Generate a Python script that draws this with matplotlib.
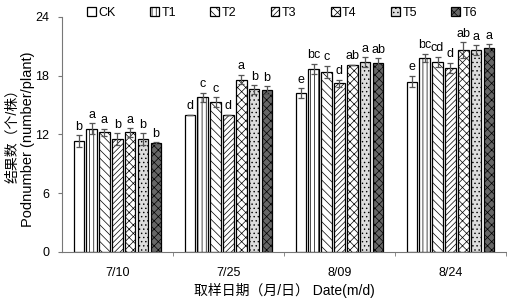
import numpy as np
import matplotlib
matplotlib.use("Agg")
import matplotlib.pyplot as plt

plt.rcParams['font.family'] = ['Liberation Sans', 'Noto Sans CJK SC', 'DejaVu Sans']
plt.rcParams['hatch.linewidth'] = 0.5

dates = ["7/10", "7/25", "8/09", "8/24"]
treatments = ["CK", "T1", "T2", "T3", "T4", "T5", "T6"]

# pod number per plant, one list per treatment (values for each date)
ck = [11.3, 14.0, 16.2, 17.4]
t1 = [12.6, 15.8, 18.7, 19.8]
t2 = [12.2, 15.3, 18.4, 19.4]
t3 = [11.5, 14.0, 17.2, 18.8]
t4 = [12.2, 17.6, 19.1, 20.6]
t5 = [11.5, 16.6, 19.4, 20.6]
t6 = [11.1, 16.5, 19.3, 20.8]

ck_err = [0.6, 0.0, 0.5, 0.6]
t1_err = [0.55, 0.45, 0.5, 0.45]
t2_err = [0.4, 0.5, 0.6, 0.55]
t3_err = [0.6, 0.0, 0.4, 0.5]
t4_err = [0.45, 0.5, 0.0, 0.8]
t5_err = [0.6, 0.45, 0.5, 0.5]
t6_err = [0.1, 0.4, 0.5, 0.4]

ck_sig = ["b", "d", "e", "e"]
t1_sig = ["a", "c", "bc", "bc"]
t2_sig = ["a", "c", "c", "cd"]
t3_sig = ["b", "d", "d", "d"]
t4_sig = ["a", "a", "ab", "ab"]
t5_sig = ["b", "b", "a", "a"]
t6_sig = ["b", "b", "ab", "a"]

values = [ck, t1, t2, t3, t4, t5, t6]
errors = [ck_err, t1_err, t2_err, t3_err, t4_err, t5_err, t6_err]
sigs = [ck_sig, t1_sig, t2_sig, t3_sig, t4_sig, t5_sig, t6_sig]

styles = [
    dict(facecolor="white", hatch=None),
    dict(facecolor="white", hatch="||||"),
    dict(facecolor="white", hatch="\\\\\\\\"),
    dict(facecolor="white", hatch="//////"),
    dict(facecolor="white", hatch="xxxx"),
    dict(facecolor="#dddddd", hatch="...."),
    dict(facecolor="#666666", hatch="xxxx"),
]

fig = plt.figure(figsize=(5.07, 3.02), dpi=100)
ax = fig.add_axes([0.122, 0.166, 0.876, 0.778])

slot = 0.116
width = 0.094
x = np.arange(len(dates))
for i, name in enumerate(treatments):
    pos = x + 0.5 + (i - 3) * slot
    ax.bar(pos, values[i], width=width, edgecolor="black", linewidth=0.9,
           label=name, **styles[i])
    ax.errorbar(pos, values[i], yerr=errors[i], fmt="none", ecolor="#555555",
                elinewidth=0.9, capsize=2.5, capthick=0.9)
    for p, v, e, s in zip(pos, values[i], errors[i], sigs[i]):
        ax.text(p, v + e + 0.25, s, ha="center", va="bottom", fontsize=9)

ax.set_xlim(0, 4)
ax.set_ylim(0, 24)
ax.set_yticks([0, 6, 12, 18, 24])
ax.set_xticks(x + 0.5)
ax.set_xticklabels(dates, fontsize=9)
ax.set_xticks([1, 2, 3, 4], minor=True)
ax.tick_params(axis="x", which="major", length=0, pad=11)
ax.tick_params(axis="x", which="minor", length=3, direction="out", color="#777777")
ax.tick_params(axis="y", labelsize=9, length=3, color="#777777", pad=6)
for side in ("top", "right"):
    ax.spines[side].set_visible(False)
for side in ("left", "bottom"):
    ax.spines[side].set_color("#777777")
    ax.spines[side].set_linewidth(0.8)

ax.set_xlabel("取样日期（月/日） Date(m/d)", fontsize=10, labelpad=3)
fig.text(0.025, 0.56, "结果数（个/株）", rotation=90, ha="center", va="center", fontsize=10)
fig.text(0.055, 0.54, "Podnumber (number/plant)", rotation=90, ha="center", va="center", fontsize=10.5)

fig.legend(loc="upper left", bbox_to_anchor=(0.15, 1.015), ncol=7, frameon=False,
           fontsize=9, handlelength=0.7, handleheight=0.7, handletextpad=0.2,
           columnspacing=2.75)

fig.savefig("out.png", dpi=100)
